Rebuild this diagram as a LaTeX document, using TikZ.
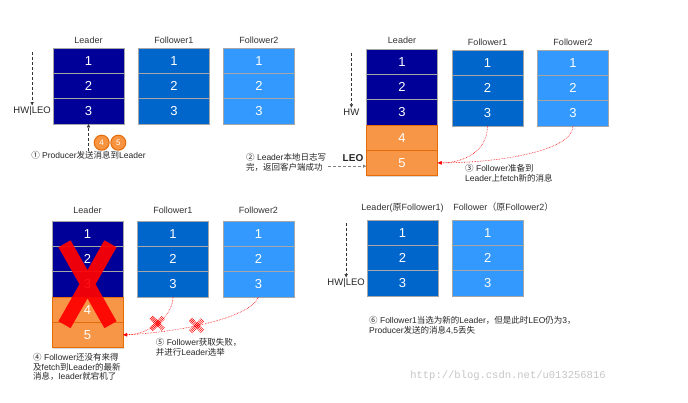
\documentclass[tikz,border=0pt]{standalone}
\usepackage{fontspec}
\setmainfont{Liberation Sans}
\setmonofont{Liberation Mono}
\newfontfamily\cjk{Noto Sans CJK SC}
\newcommand{\zw}[1]{{\cjk #1}}
\usetikzlibrary{arrows.meta,positioning,shadows,shapes.misc}
\definecolor{leadblue}{HTML}{000099}
\definecolor{fblue}{HTML}{0066CC}
\definecolor{skyblue}{HTML}{3399FF}
\definecolor{logorange}{HTML}{F79646}
\definecolor{edgeorange}{HTML}{E46C0A}
\definecolor{sepgray}{HTML}{A6A6A6}
\definecolor{failred}{HTML}{FF0000}

\begin{document}
\begin{tikzpicture}[
      x=1pt, y=-1pt,
      cell/.style={
        minimum width=71pt,
        minimum height=25.3pt,
        inner sep=0pt, outer sep=0pt,
        draw=sepgray, line width=0.5pt,
        text=white,
        font=\fontsize{13}{13}\selectfont,
        drop shadow={shadow xshift=0.8pt,shadow yshift=-1.4pt,opacity=0.3}
      },
      ldcell/.style={cell,fill=leadblue},
      f1cell/.style={cell,fill=fblue},
      f2cell/.style={cell,fill=skyblue},
      newcell/.style={cell,fill=logorange,draw=edgeorange},
      colhead/.style={font=\fontsize{9}{10}\selectfont,text=black!80,inner sep=1pt,text depth=0pt},
      hwlabel/.style={font=\fontsize{9.5}{10}\selectfont,text=black!85,inner sep=1pt},
      leo/.style={font=\fontsize{10}{10}\selectfont\bfseries,text=black!85,inner sep=1pt},
      note/.style={font=\fontsize{8.5}{9.8}\selectfont,text=black!85,align=left,inner sep=0pt,anchor=north west},
      ball/.style={circle,minimum size=15pt,inner sep=0pt,fill=logorange!90!orange,draw=edgeorange,
        line width=1pt,text=white,font=\fontsize{8}{8}\selectfont},
      hwarr/.style={densely dashed,thin,draw=black!80,-{Latex[length=3.5pt,width=3.5pt]}},
      replyarr/.style={densely dashed,thin,draw=gray,-{Latex[length=3.5pt,width=3.5pt]}},
      fetch/.style={densely dotted,line width=0.6pt,draw=failred,-{Latex[length=4pt,width=3.5pt]}},
      xmark/.style={cross out,draw=failred,line width=4.6pt,minimum size=7.5pt,inner sep=0pt},
      bigx/.style={cross out,draw=failred,draw opacity=0.93,line width=14pt,
        minimum width=32pt,minimum height=67pt,inner sep=0pt}
    ]
    \path[use as bounding box,fill=white] (0,0) rectangle (688,403);

    % log columns of the four stages
    \foreach \p/\c/\x/\y/\s in {a/L/88.5/48/ldcell, a/F/174/48/f1cell, a/G/259/48/f2cell,
        b/L/402/49/ldcell, b/F/487.5/50/f1cell, b/G/573/50/f2cell,
        c/L/87.5/221/ldcell, c/F/173/221/f1cell, c/G/258.5/221/f2cell,
        d/L/402.5/220/f1cell, d/F/487.7/220/f2cell}
      \foreach \i in {1,2,3}
        \node[\s] (\p-\c\i) at (\x,\y+25.3*\i-12.65) {\i};

    % stage 1
    \node[colhead,above=3.5pt of a-L1] (a-Lhd) {Leader};
    \node[colhead,above=3.5pt of a-F1] (a-Fhd) {Follower1};
    \node[colhead,above=3.5pt of a-G1] (a-Ghd) {Follower2};
    \node[hwlabel,left=1pt of a-L3] (a-hw) {HW|LEO};
    \draw[hwarr] ([yshift=-4pt]a-hw.north |- a-L1.north) -- (a-hw.north);
    \node[note,below=27pt of a-L3] (a-note) {\zw{①} Producer\zw{发送消息到}Leader};
    \draw[hwarr] (a-note.north) -- (a-L3.south);
    \node[ball] (a-b4) at (101.7,142.7) {4};
    \node[ball,right=0.6pt of a-b4] (a-b5) {5};

    % stage 2
    \node[newcell,below=0pt of b-L3] (b-L4) {4};
    \node[newcell,below=0pt of b-L4] (b-L5) {5};
    \node[colhead,above=4.5pt of b-L1] (b-Lhd) {Leader};
    \node[colhead,above=3.5pt of b-F1] (b-Fhd) {Follower1};
    \node[colhead,above=3.5pt of b-G1] (b-Ghd) {Follower2};
    \node[hwlabel,left=6pt of b-L3] (b-hw) {HW};
    \draw[hwarr] ([yshift=-4pt]b-hw.north |- b-L1.north) -- (b-hw.north);
    \node[leo,above left=0pt and 2pt of b-L5.west] (b-leo) {LEO};
    \node[note] (b-note) at (246,153) {\zw{②} Leader\zw{本地日志写}\\\zw{完，返回客户端成功}};
    \draw[replyarr] ([xshift=2pt,yshift=-4pt]b-note.east) -- ([yshift=-4pt]b-note.east -| b-L5.west);
    \draw[fetch] (b-F3.south) .. controls +(0,25) and +(27,0) .. (b-L5.east);
    \draw[fetch] (b-G3.south) .. controls +(0,25) and +(62,0) .. (b-L5.east);
    \node[note] (b-note2) at (465,164.5) {\zw{③} Follower\zw{准备到}\\Leader\zw{上}fetch\zw{新的消息}};

    % stage 3
    \node[newcell,below=0pt of c-L3] (c-L4) {4};
    \node[newcell,below=0pt of c-L4] (c-L5) {5};
    \node[colhead,above=6.5pt of c-L1] (c-Lhd) {Leader};
    \node[colhead,above=6.5pt of c-F1] (c-Fhd) {Follower1};
    \node[colhead,above=6.5pt of c-G1] (c-Ghd) {Follower2};
    \node[bigx] (c-X) at (c-L3) {};
    \draw[fetch] (c-F3.south) .. controls +(0,20) and +(25,0) .. node[xmark,pos=0.5] (c-m1) {} (c-L5.east);
    \draw[fetch] (c-G3.south) .. controls +(-8,22) and +(50,-2) .. node[xmark,pos=0.56] (c-m2) {} (c-L5.east);
    \node[note] (c-note) at (33,353) {\zw{④} Follower\zw{还没有来得}\\\zw{及}fetch\zw{到}Leader\zw{的最新}\\\zw{消息，}leader\zw{就宕机了}};
    \node[note] (c-note2) at (155.7,338) {\zw{⑤} Follower\zw{获取失败，}\\\zw{并进行}Leader\zw{选举}};

    % stage 4
    \node[colhead,above=8pt of d-L1] (d-Lhd) {Leader(\zw{原}Follower1)};
    \node[colhead,above right=8pt and 0pt of d-F1.north west] (d-Fhd) {Follower\zw{（原}Follower2\zw{）}};
    \node[hwlabel,left=1pt of d-L3] (d-hw) {HW|LEO};
    \draw[hwarr] ([yshift=-3pt]d-hw.north |- d-L1.north) -- (d-hw.north);
    \node[note] (d-note) at (369,316) {\zw{⑥} Follower1\zw{当选为新的}Leader\zw{，但是此时}LEO\zw{仍为}3\zw{，}\\Producer\zw{发送的消息}4,5\zw{丢失}};
    \node[font=\ttfamily\fontsize{10.5}{11}\selectfont,text=gray!45] (wm) at (508,376) {http://blog.csdn.net/u013256816};
  \end{tikzpicture}
\end{document}
